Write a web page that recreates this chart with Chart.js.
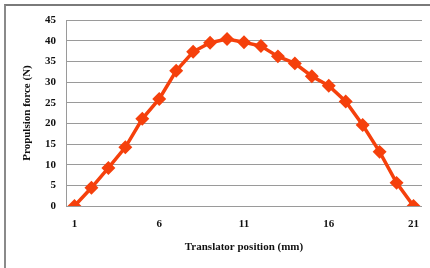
<!DOCTYPE html>
<html>
<head>
<meta charset="utf-8">
<script src="https://cdn.jsdelivr.net/npm/chart.js@4"></script>
<style>
  html, body { margin: 0; padding: 0; background: #fff; }
  #wrap { position: relative; width: 430px; height: 268px; }
  #frame { position: absolute; left: 4px; top: 4px; width: 424px; height: 262px;
           border-left: 2px solid #8a8a8a; border-top: 2px solid #7a7a7a; }
  canvas { position: absolute; left: 0; top: 0; }
</style>
</head>
<body>
<div id="wrap">
  <div id="frame"></div>
  <canvas id="chart" width="430" height="268"></canvas>
</div>
<script>
// Translator positions (mm) and measured propulsion force (N)
const positions = [1, 2, 3, 4, 5, 6, 7, 8, 9, 10, 11, 12, 13, 14, 15, 16, 17, 18, 19, 20, 21];
const force = [0, 4.4, 9.2, 14.2, 21.1, 25.9, 32.7, 37.3, 39.5, 40.4, 39.6, 38.7, 36.2, 34.5, 31.4, 29.1, 25.3, 19.6, 13.1, 5.6, 0];
const shownTicks = [1, 6, 11, 16, 21];

const lineColor = '#f5400c';
const tickFont = { family: 'Liberation Serif', size: 11, weight: 'bold' };

new Chart(document.getElementById('chart'), {
    type: 'line',
    data: {
        labels: positions,
        datasets: [{
            data: force,
            borderColor: lineColor,
            backgroundColor: lineColor,
            borderWidth: 3.5,
            pointStyle: 'rectRot',
            pointRadius: 4.5,
            pointBackgroundColor: lineColor,
            pointBorderColor: lineColor,
            tension: 0
        }]
    },
    options: {
        responsive: false,
        animation: false,
        layout: { padding: { left: 17, right: 7, top: 20, bottom: 14 } },
        plugins: { legend: { display: false }, tooltip: { enabled: false } },
        scales: {
            x: {
                offset: true,
                grid: { display: false },
                border: { display: false },
                ticks: {
                    autoSkip: false,
                    maxRotation: 0,
                    color: '#111',
                    font: tickFont,
                    padding: 4,
                    callback: (v, i) => shownTicks.includes(positions[i]) ? positions[i] : ''
                },
                title: {
                    display: true,
                    text: 'Translator position (mm)',
                    color: '#111',
                    font: tickFont,
                    padding: { top: 12, bottom: 0 }
                },
                afterFit: (s) => { s.height = 48; }
            },
            y: {
                min: 0,
                max: 45,
                grid: { color: '#9a9a9a', lineWidth: 1, drawTicks: false },
                border: { display: true, color: '#9a9a9a', width: 1 },
                ticks: {
                    stepSize: 5,
                    color: '#111',
                    font: tickFont,
                    padding: 10
                },
                title: {
                    display: true,
                    text: 'Propulsion force (N)',
                    color: '#111',
                    font: tickFont,
                    padding: { top: 4, bottom: 0 }
                },
                afterFit: (s) => { s.width = 49; }
            }
        }
    }
});
</script>
</body>
</html>
